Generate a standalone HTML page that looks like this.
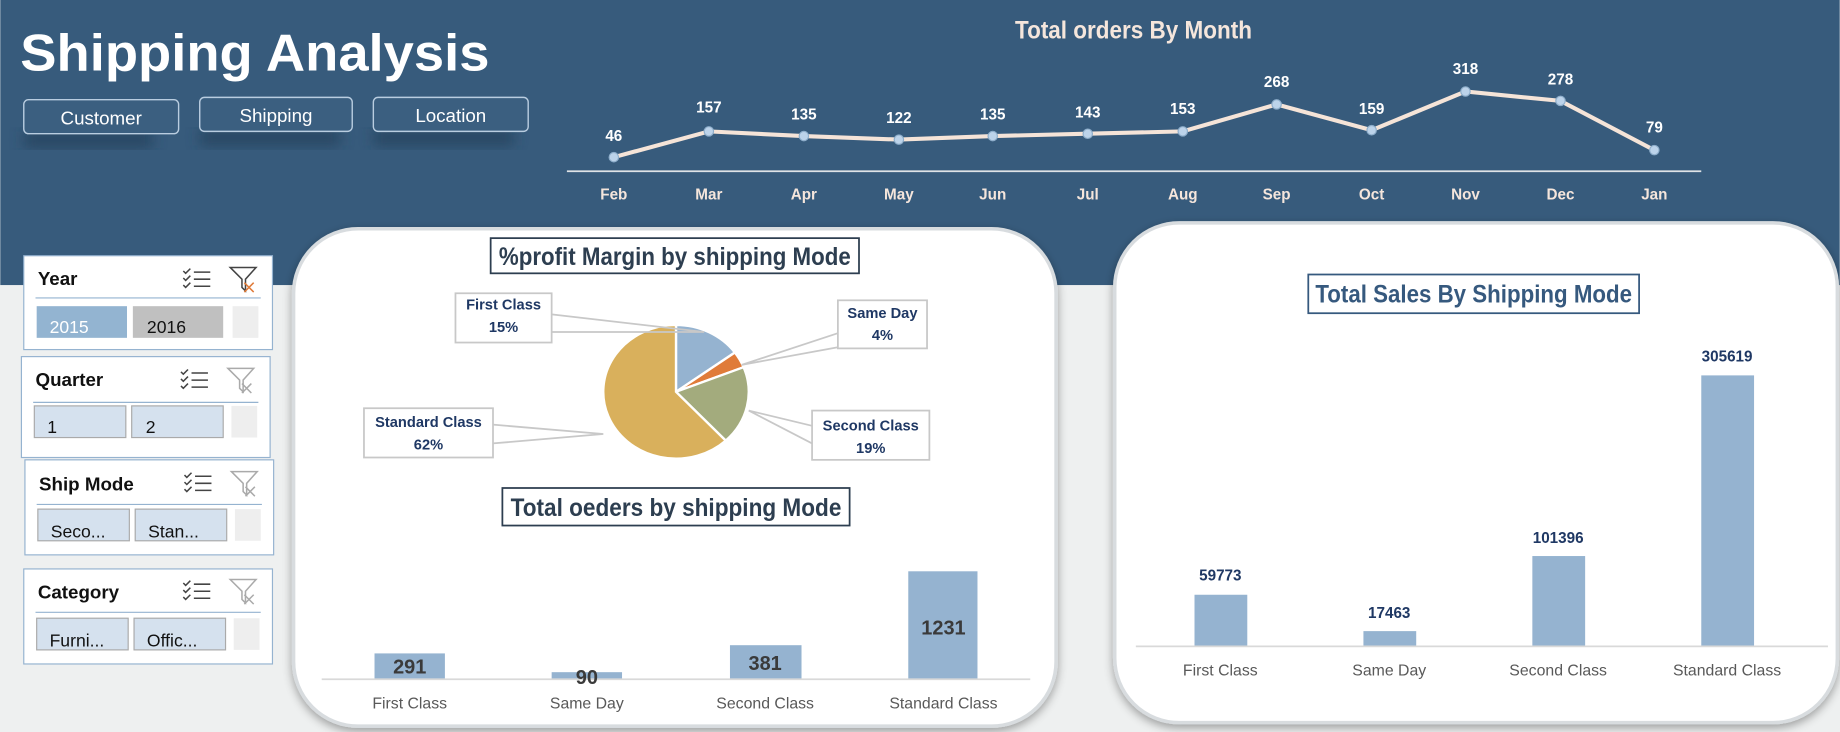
<!DOCTYPE html>
<html><head><meta charset="utf-8"><style>
html,body{margin:0;padding:0;background:#eef0f0;overflow:hidden}
svg{display:block}
.n{font-family:"Liberation Sans",sans-serif;font-weight:bold}
.s{font-family:"Liberation Sans",sans-serif}
</style></head><body>
<svg width="1840" height="732" viewBox="0 0 1568 624" xmlns="http://www.w3.org/2000/svg">
<defs>
<filter id="sh" x="-10%" y="-10%" width="120%" height="120%"><feGaussianBlur in="SourceAlpha" stdDeviation="4"/><feOffset dx="0" dy="3"/><feComponentTransfer><feFuncA type="linear" slope="0.35"/></feComponentTransfer><feMerge><feMergeNode/><feMergeNode in="SourceGraphic"/></feMerge></filter>
<filter id="bl"><feGaussianBlur stdDeviation="6"/></filter>
</defs>
<rect width="1568" height="624" fill="#eef0f0"/>
<rect width="1568" height="243" fill="#375b7c"/>
<text x="17" y="60" class="s" font-size="44" font-weight="bold" fill="#fff" textLength="400" lengthAdjust="spacingAndGlyphs">Shipping Analysis</text>
<g filter="url(#bl)" fill="#233e57" opacity="0.7">
<rect x="20" y="112" width="110" height="14"/><rect x="170" y="110" width="120" height="14"/><rect x="318" y="110" width="120" height="14"/>
</g>
<g fill="#3b5f80" stroke="#b9cde0" stroke-width="1.2">
<rect x="20" y="85" width="132" height="29" rx="4"/><rect x="170" y="83" width="130" height="29" rx="4"/><rect x="318" y="83" width="132" height="29" rx="4"/>
</g>
<g class="s" font-size="16" fill="#fff" text-anchor="middle">
<text x="86" y="106">Customer</text><text x="235" y="104">Shipping</text><text x="384" y="104">Location</text>
</g>
<text x="966" y="33" class="n" font-size="21" fill="#f5e6dc" text-anchor="middle" textLength="202" lengthAdjust="spacingAndGlyphs">Total orders By Month</text>
<line x1="483" y1="146" x2="1450" y2="146" stroke="#dfe3e6" stroke-width="1.5"/>
<polyline fill="none" stroke="#f5e4d8" stroke-width="3.5" points="523,134 604,112 685,116 766,119 846,116 927,114 1008,112 1088,89 1169,111 1249,78 1330,86 1410,128"/>
<g fill="#bcd3ea" stroke="#8eaecb" stroke-width="1">
<circle cx="523" cy="134" r="4"/><circle cx="604" cy="112" r="4"/><circle cx="685" cy="116" r="4"/><circle cx="766" cy="119" r="4"/><circle cx="846" cy="116" r="4"/><circle cx="927" cy="114" r="4"/><circle cx="1008" cy="112" r="4"/><circle cx="1088" cy="89" r="4"/><circle cx="1169" cy="111" r="4"/><circle cx="1249" cy="78" r="4"/><circle cx="1330" cy="86" r="4"/><circle cx="1410" cy="128" r="4"/>
</g>
<g class="n" font-size="13" fill="#fff" text-anchor="middle">
<text x="523" y="120">46</text><text x="604" y="96">157</text><text x="685" y="102">135</text><text x="766" y="105">122</text><text x="846" y="102">135</text><text x="927" y="100">143</text><text x="1008" y="97">153</text><text x="1088" y="74">268</text><text x="1169" y="97">159</text><text x="1249" y="63">318</text><text x="1330" y="72">278</text><text x="1410" y="113">79</text>
</g>
<g class="n" font-size="13" fill="#f5e6dc" text-anchor="middle">
<text x="523" y="170">Feb</text><text x="604" y="170">Mar</text><text x="685" y="170">Apr</text><text x="766" y="170">May</text><text x="846" y="170">Jun</text><text x="927" y="170">Jul</text><text x="1008" y="170">Aug</text><text x="1088" y="170">Sep</text><text x="1169" y="170">Oct</text><text x="1249" y="170">Nov</text><text x="1330" y="170">Dec</text><text x="1410" y="170">Jan</text>
</g>
<rect x="250" y="195" width="650" height="424" rx="55" fill="#fff" stroke="#d8dcdf" stroke-width="3" filter="url(#sh)"/>
<rect x="950" y="190" width="616" height="426" rx="55" fill="#fff" stroke="#d8dcdf" stroke-width="3" filter="url(#sh)"/>
<rect x="418" y="203" width="314" height="30" fill="#fff" stroke="#2d3e50" stroke-width="1.5"/>
<text x="575" y="226" class="n" font-size="21" fill="#2d3e50" text-anchor="middle" textLength="300" lengthAdjust="spacingAndGlyphs">%profit Margin by shipping Mode</text>
<g stroke="#fff" stroke-width="2">
<path d="M576,334 L576,277 A62,57 0 0 1 626.2,300.5 Z" fill="#95b3d0"/>
<path d="M576,334 L626.2,300.5 A62,57 0 0 1 633.6,313 Z" fill="#e07b39"/>
<path d="M576,334 L633.6,313 A62,57 0 0 1 618.4,375.6 Z" fill="#a3ab7d"/>
<path d="M576,334 L618.4,375.6 A62,57 0 1 1 576,277 Z" fill="#d9b05c"/>
</g>
<g stroke="#c8c8c8" stroke-width="1.5" fill="none">
<polyline points="470,268 600,283 470,283"/>
<polyline points="714,284 632,311 714,296"/>
<polyline points="692,363 638,350 692,378"/>
<polyline points="420,362 514,370 420,378"/>
</g>
<g fill="#fff" stroke="#c8c8c8" stroke-width="1.5">
<rect x="388" y="250" width="82" height="42"/><rect x="714" y="256" width="76" height="41"/><rect x="692" y="350" width="100" height="42"/><rect x="310" y="348" width="110" height="42"/>
</g>
<g class="n" font-size="12.5" fill="#1f3864" text-anchor="middle">
<text x="429" y="264">First Class</text><text x="429" y="283">15%</text>
<text x="752" y="271">Same Day</text><text x="752" y="290">4%</text>
<text x="742" y="367">Second Class</text><text x="742" y="386">19%</text>
<text x="365" y="364">Standard Class</text><text x="365" y="383">62%</text>
</g>
<rect x="428" y="416" width="296" height="32" fill="#fff" stroke="#2d3e50" stroke-width="1.5"/>
<text x="576" y="440" class="n" font-size="21" fill="#2d3e50" text-anchor="middle" textLength="282" lengthAdjust="spacingAndGlyphs">Total oeders by shipping Mode</text>
<g fill="#95b3d0">
<rect x="319" y="557" width="60" height="22"/><rect x="470" y="573" width="60" height="6"/><rect x="622" y="550" width="61" height="29"/><rect x="774" y="487" width="59" height="92"/>
</g>
<line x1="274" y1="579" x2="878" y2="579" stroke="#d9d9d9" stroke-width="1.5"/>
<g class="n" font-size="17" fill="#3a3a3a" text-anchor="middle">
<text x="349" y="574">291</text><text x="500" y="583">90</text><text x="652" y="571">381</text><text x="804" y="541">1231</text>
</g>
<g class="s" font-size="13.5" fill="#595959" text-anchor="middle">
<text x="349" y="604">First Class</text><text x="500" y="604">Same Day</text><text x="652" y="604">Second Class</text><text x="804" y="604">Standard Class</text>
</g>
<rect x="1115" y="234" width="282" height="33" fill="#fff" stroke="#36597e" stroke-width="1.5"/>
<text x="1256" y="258" class="n" font-size="21" fill="#36597e" text-anchor="middle" textLength="270" lengthAdjust="spacingAndGlyphs">Total Sales By Shipping Mode</text>
<g fill="#95b3d0">
<rect x="1018" y="507" width="45" height="44"/><rect x="1162" y="538" width="45" height="13"/><rect x="1306" y="474" width="45" height="77"/><rect x="1450" y="320" width="45" height="231"/>
</g>
<line x1="968" y1="551" x2="1558" y2="551" stroke="#d9d9d9" stroke-width="1.5"/>
<g class="s" font-size="13" font-weight="bold" fill="#1f3864" text-anchor="middle">
<text x="1040" y="495">59773</text><text x="1184" y="527">17463</text><text x="1328" y="463">101396</text><text x="1472" y="308">305619</text>
</g>
<g class="s" font-size="13.5" fill="#595959" text-anchor="middle">
<text x="1040" y="576">First Class</text><text x="1184" y="576">Same Day</text><text x="1328" y="576">Second Class</text><text x="1472" y="576">Standard Class</text>
</g>
<g class="s">
<rect x="20" y="218" width="212" height="80" fill="#fff" stroke="#95b3d0"/>
<text x="32" y="243" font-size="16" font-weight="bold" fill="#111">Year</text>
<line x1="30" y1="254" x2="222" y2="254" stroke="#95b3d0"/>
<rect x="31" y="261" width="77" height="27" fill="#93b4d1"/><text x="42" y="284" font-size="15" fill="#fff">2015</text>
<rect x="113" y="261" width="77" height="27" fill="#c0c0c0"/><text x="125" y="284" font-size="15" fill="#111">2016</text>
<rect x="198" y="261" width="22" height="27" fill="#eeeeee"/>
<rect x="18" y="304" width="212" height="86" fill="#fff" stroke="#95b3d0"/>
<text x="30" y="329" font-size="16" font-weight="bold" fill="#111">Quarter</text>
<line x1="28" y1="343" x2="220" y2="343" stroke="#95b3d0"/>
<rect x="29" y="346" width="78" height="27" fill="#d5e1ee" stroke="#aaa"/><text x="40" y="369" font-size="15" fill="#111">1</text>
<rect x="112" y="346" width="78" height="27" fill="#d5e1ee" stroke="#aaa"/><text x="124" y="369" font-size="15" fill="#111">2</text>
<rect x="197" y="346" width="22" height="27" fill="#eeeeee"/>
<rect x="21" y="392" width="212" height="81" fill="#fff" stroke="#95b3d0"/>
<text x="33" y="418" font-size="16" font-weight="bold" fill="#111">Ship Mode</text>
<line x1="31" y1="430" x2="223" y2="430" stroke="#95b3d0"/>
<rect x="32" y="434" width="78" height="27" fill="#d5e1ee" stroke="#aaa"/><text x="43" y="458" font-size="15" fill="#111">Seco...</text>
<rect x="115" y="434" width="78" height="27" fill="#d5e1ee" stroke="#aaa"/><text x="126" y="458" font-size="15" fill="#111">Stan...</text>
<rect x="200" y="434" width="22" height="27" fill="#eeeeee"/>
<rect x="20" y="485" width="212" height="81" fill="#fff" stroke="#95b3d0"/>
<text x="32" y="510" font-size="16" font-weight="bold" fill="#111">Category</text>
<line x1="30" y1="522" x2="222" y2="522" stroke="#95b3d0"/>
<rect x="31" y="527" width="78" height="27" fill="#d5e1ee" stroke="#aaa"/><text x="42" y="551" font-size="15" fill="#111">Furni...</text>
<rect x="114" y="527" width="78" height="27" fill="#d5e1ee" stroke="#aaa"/><text x="125" y="551" font-size="15" fill="#111">Offic...</text>
<rect x="199" y="527" width="22" height="27" fill="#eeeeee"/>
</g>
<g stroke="#444" stroke-width="1.3" fill="none">
<g transform="translate(156,228)"><path d="M0,3 l2,2 l4,-4 M0,9 l2,2 l4,-4 M0,15 l2,2 l4,-4 M9,4 h14 M9,10 h14 M9,16 h14"/></g>
<g transform="translate(154,314)"><path d="M0,3 l2,2 l4,-4 M0,9 l2,2 l4,-4 M0,15 l2,2 l4,-4 M9,4 h14 M9,10 h14 M9,16 h14"/></g>
<g transform="translate(157,402)"><path d="M0,3 l2,2 l4,-4 M0,9 l2,2 l4,-4 M0,15 l2,2 l4,-4 M9,4 h14 M9,10 h14 M9,16 h14"/></g>
<g transform="translate(156,494)"><path d="M0,3 l2,2 l4,-4 M0,9 l2,2 l4,-4 M0,15 l2,2 l4,-4 M9,4 h14 M9,10 h14 M9,16 h14"/></g>
</g>
<g fill="none" stroke-width="1.3">
<g transform="translate(196,227)"><path d="M0,1 h22 l-9,10 v10 l-3,-3 v-7 z" stroke="#444"/><path d="M12,14 l8,8 M20,14 l-8,8" stroke="#e07b39"/></g>
<g transform="translate(194,313)"><path d="M0,1 h22 l-9,10 v10 l-3,-3 v-7 z" stroke="#aaa"/><path d="M12,14 l8,8 M20,14 l-8,8" stroke="#aaa"/></g>
<g transform="translate(197,401)"><path d="M0,1 h22 l-9,10 v10 l-3,-3 v-7 z" stroke="#aaa"/><path d="M12,14 l8,8 M20,14 l-8,8" stroke="#aaa"/></g>
<g transform="translate(196,493)"><path d="M0,1 h22 l-9,10 v10 l-3,-3 v-7 z" stroke="#aaa"/><path d="M12,14 l8,8 M20,14 l-8,8" stroke="#aaa"/></g>
</g>
</svg>
</body></html>
